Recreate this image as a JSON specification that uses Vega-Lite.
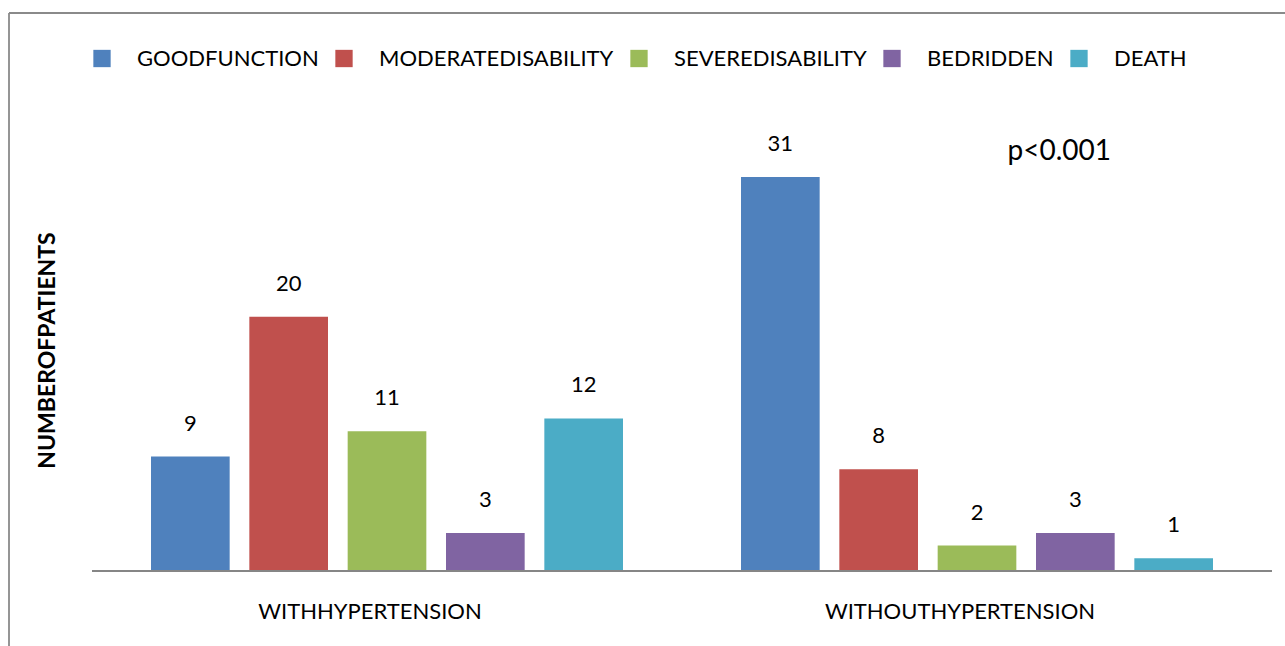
{
  "$schema": "https://vega.github.io/schema/vega-lite/v6.json",
  "width": 1276.5,
  "height": 633.5,
  "autosize": {"type": "none"},
  "padding": {"left": 8.5, "top": 12.5, "right": 0, "bottom": 0},
  "background": "white",
  "config": {
    "view": {"stroke": null},
    "font": "Lato",
    "axis": {"grid": false}
  },
  "datasets": {
    "outcomes": [
      {"group": "WITHHYPERTENSION", "outcome": "GOODFUNCTION", "patients": 9},
      {"group": "WITHHYPERTENSION", "outcome": "MODERATEDISABILITY", "patients": 20},
      {"group": "WITHHYPERTENSION", "outcome": "SEVEREDISABILITY", "patients": 11},
      {"group": "WITHHYPERTENSION", "outcome": "BEDRIDDEN", "patients": 3},
      {"group": "WITHHYPERTENSION", "outcome": "DEATH", "patients": 12},
      {"group": "WITHOUTHYPERTENSION", "outcome": "GOODFUNCTION", "patients": 31},
      {"group": "WITHOUTHYPERTENSION", "outcome": "MODERATEDISABILITY", "patients": 8},
      {"group": "WITHOUTHYPERTENSION", "outcome": "SEVEREDISABILITY", "patients": 2},
      {"group": "WITHOUTHYPERTENSION", "outcome": "BEDRIDDEN", "patients": 3},
      {"group": "WITHOUTHYPERTENSION", "outcome": "DEATH", "patients": 1}
    ],
    "groups": [
      {"group": "WITHHYPERTENSION", "patients": 0},
      {"group": "WITHOUTHYPERTENSION", "patients": 0}
    ],
    "annotation": [
      {"group": "WITHOUTHYPERTENSION", "outcome": "BEDRIDDEN", "patients": 33, "label": "p<0.001"}
    ]
  },
  "resolve": {"axis": {"x": "independent"}},
  "layer": [
    {
      "data": {"name": "outcomes"},
      "mark": {"type": "bar"},
      "encoding": {
        "x": {
          "field": "group",
          "type": "nominal",
          "scale": {"domain": ["WITHHYPERTENSION", "WITHOUTHYPERTENSION"], "paddingInner": 0, "paddingOuter": 0.08178, "align": 0.8653},
          "axis": {
            "orient": "bottom",
            "offset": -75,
            "title": null,
            "domain": false,
            "ticks": false,
            "labelAngle": 0,
            "labelOffset": -17,
            "labelPadding": 30,
            "labelFont": "Lato",
            "labelFontSize": 22,
            "labelColor": "#000000",
            "labelLimit": 400
          }
        },
        "xOffset": {
          "field": "outcome",
          "type": "nominal",
          "scale": {"domain": ["GOODFUNCTION", "MODERATEDISABILITY", "SEVEREDISABILITY", "BEDRIDDEN", "DEATH"], "paddingInner": 0.2, "paddingOuter": 0.6}
        },
        "y": {
          "field": "patients",
          "type": "quantitative",
          "scale": {"domain": [-5.9, 43.94], "nice": false, "zero": false},
          "axis": {
            "title": "NUMBEROFPATIENTS",
            "domain": true,
            "domainColor": "#8a8a8a",
            "domainWidth": 1.8,
            "ticks": false,
            "labels": false,
            "titleFont": "Lato",
            "titleFontSize": 23,
            "titleFontWeight": "bold",
            "titleColor": "#000000",
            "titleAngle": 270,
            "titleAlign": "center",
            "titleBaseline": "middle",
            "titleX": 39,
            "titleY": 337.5
          }
        },
        "color": {
          "field": "outcome",
          "type": "nominal",
          "scale": {
            "domain": ["GOODFUNCTION", "MODERATEDISABILITY", "SEVEREDISABILITY", "BEDRIDDEN", "DEATH"],
            "range": ["#4F81BD", "#C0504D", "#9BBB59", "#8064A2", "#4BACC6"]
          },
          "legend": {
            "title": null,
            "orient": "none",
            "legendX": 82.5,
            "legendY": 35,
            "direction": "horizontal",
            "padding": 0,
            "symbolType": "square",
            "symbolSize": 300,
            "symbolStrokeWidth": 0,
            "symbolOpacity": 1,
            "labelFont": "Lato",
            "labelFontSize": 22,
            "labelColor": "#000000",
            "labelOffset": 24,
            "labelLimit": 400,
            "columnPadding": 14
          }
        }
      }
    },
    {
      "data": {"name": "groups"},
      "mark": {"type": "rect", "fill": null, "stroke": "#868686", "strokeWidth": 1.8},
      "encoding": {
        "x": {
          "field": "group",
          "type": "nominal",
          "axis": {
            "orient": "top",
            "title": null,
            "labels": false,
            "ticks": false,
            "domain": true,
            "domainColor": "#8a8a8a",
            "domainWidth": 1.8
          }
        },
        "y": {"field": "patients", "type": "quantitative"},
        "y2": {"field": "patients"}
      }
    },
    {
      "data": {"name": "outcomes"},
      "mark": {"type": "text", "baseline": "middle", "dy": -33, "font": "Lato", "fontSize": 22, "color": "#000000"},
      "encoding": {
        "x": {"field": "group", "type": "nominal", "axis": null},
        "xOffset": {"field": "outcome", "type": "nominal"},
        "y": {"field": "patients", "type": "quantitative"},
        "text": {"field": "patients", "type": "quantitative"}
      }
    },
    {
      "data": {"name": "annotation"},
      "mark": {"type": "text", "baseline": "middle", "dx": -16, "font": "Lato", "fontSize": 28, "color": "#000000"},
      "encoding": {
        "x": {"field": "group", "type": "nominal", "axis": null},
        "xOffset": {"field": "outcome", "type": "nominal"},
        "y": {"field": "patients", "type": "quantitative"},
        "text": {"field": "label", "type": "nominal"}
      }
    }
  ]
}
